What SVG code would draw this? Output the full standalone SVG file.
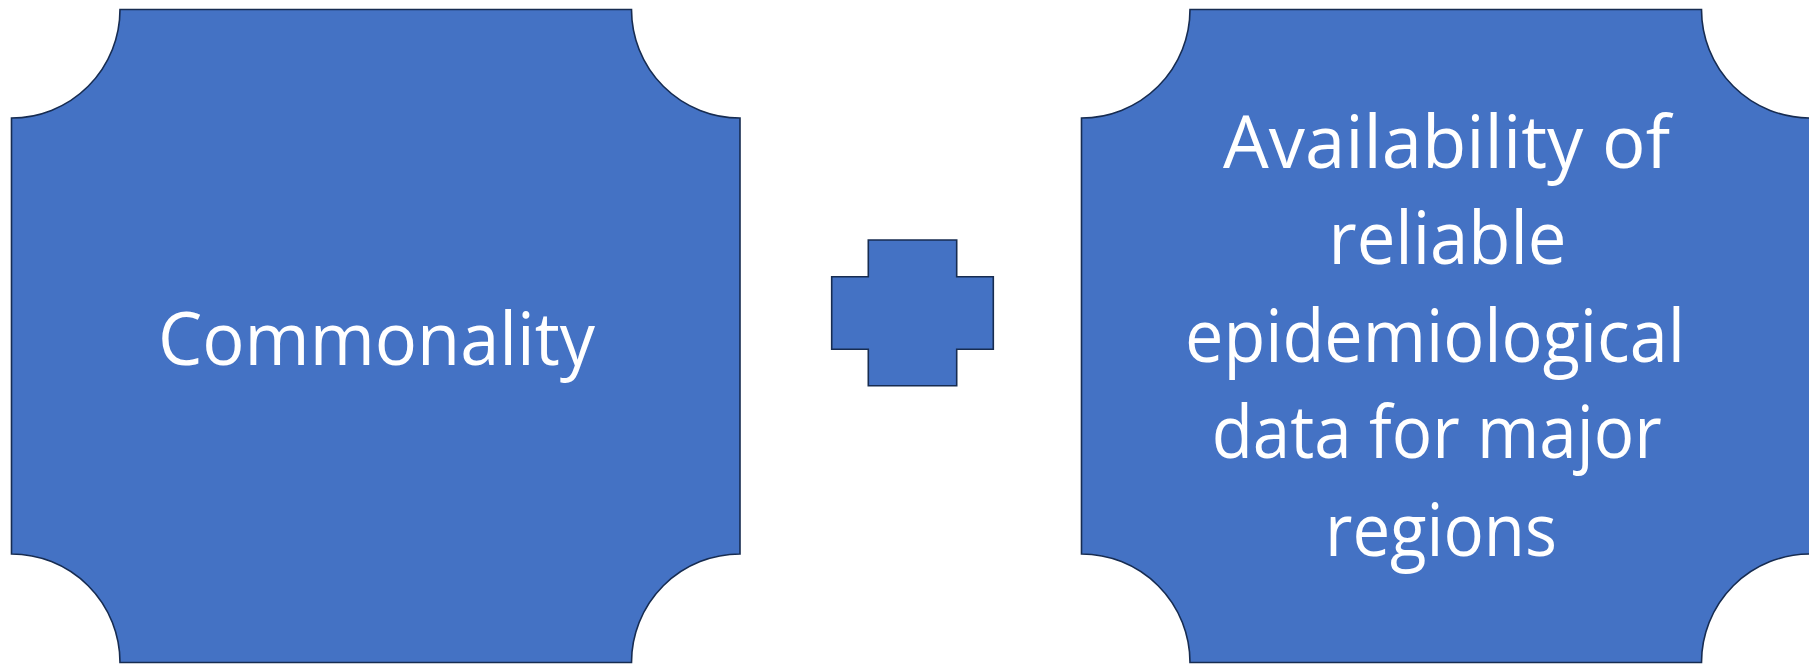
<svg xmlns="http://www.w3.org/2000/svg" width="1809" height="664" viewBox="0 0 1809 664">
<style>
.shape{fill:#4472C4;stroke:#172C51;stroke-width:1.6;stroke-linejoin:miter}
.lbl{font-family:"Open Sans","Noto Sans","Liberation Sans",sans-serif;font-size:74px;fill:#FFFFFF;text-anchor:middle}
</style>
<rect width="1809" height="664" fill="#FFFFFF"/>
<g id="node-commonality">
<path class="shape" d="M120,9.5 H631.5 A108.5,108.5 0 0 0 740,118 V554 A108.5,108.5 0 0 0 631.5,662.5 H120 A108.5,108.5 0 0 0 11.5,554 V118 A108.5,108.5 0 0 0 120,9.5 Z"/>
<text class="lbl" x="376.5" y="365" textLength="437" lengthAdjust="spacingAndGlyphs">Commonality</text>
</g>
<g id="node-plus">
<path class="shape" d="M868.3,240 H956.7 V276.7 H993.3 V349.3 H956.7 V385.7 H868.3 V349.3 H831.7 V276.7 H868.3 Z"/>
</g>
<g id="node-availability">
<path class="shape" d="M1190,9.5 H1701.5 A108.5,108.5 0 0 0 1810,118 V554 A108.5,108.5 0 0 0 1701.5,662.5 H1190 A108.5,108.5 0 0 0 1081.5,554 V118 A108.5,108.5 0 0 0 1190,9.5 Z"/>
<text class="lbl" x="1446.5" y="168" textLength="447" lengthAdjust="spacingAndGlyphs">Availability of</text>
<text class="lbl" x="1447.5" y="264" textLength="238" lengthAdjust="spacingAndGlyphs">reliable</text>
<text class="lbl" x="1435" y="362" textLength="500" lengthAdjust="spacingAndGlyphs">epidemiological</text>
<text class="lbl" x="1436.7" y="458" textLength="450" lengthAdjust="spacingAndGlyphs">data for major</text>
<text class="lbl" x="1441" y="556" textLength="232" lengthAdjust="spacingAndGlyphs">regions</text>
</g>
<g id="connectors"></g>
</svg>
